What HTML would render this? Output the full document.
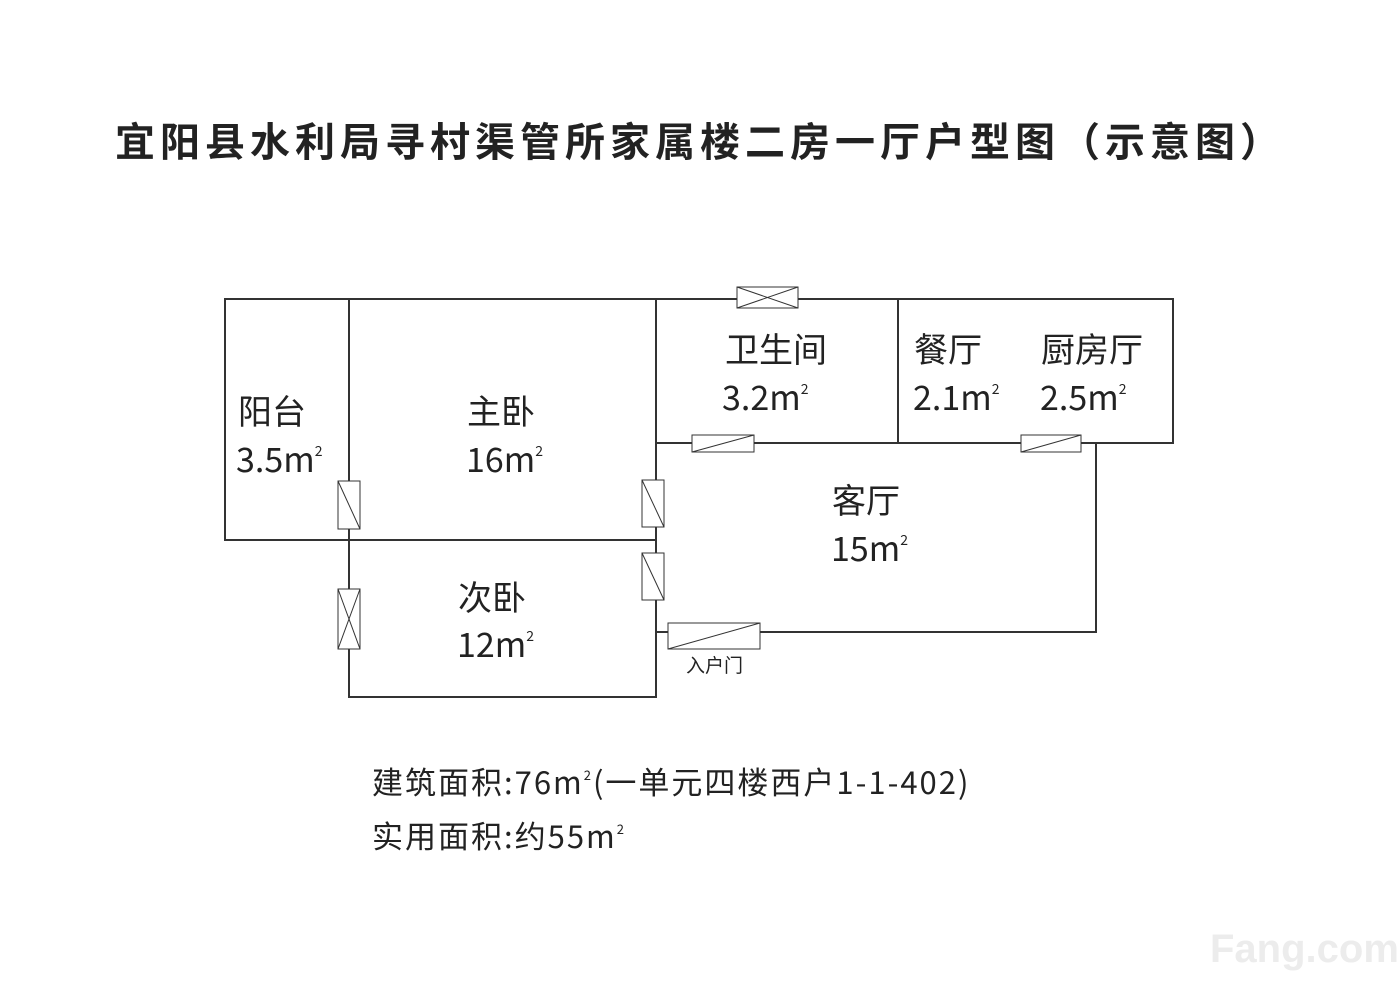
<!DOCTYPE html>
<html><head><meta charset="utf-8"><style>
body{margin:0;background:#fff;}
svg text{font-family:"Noto Sans CJK SC",sans-serif;fill:#222;}
</style></head><body>
<svg width="1400" height="986" viewBox="0 0 1400 986" xmlns="http://www.w3.org/2000/svg">
<rect width="1400" height="986" fill="#fff"/>
<text x="700" y="156" text-anchor="middle" font-size="40" font-weight="bold" letter-spacing="5">宜阳县水利局寻村渠管所家属楼二房一厅户型图（示意图）</text>
<g stroke="#333" stroke-width="2" fill="none">
<rect x="225" y="299" width="431" height="241"/>
<line x1="349" y1="299" x2="349" y2="540"/>
<polyline points="656,299 1173,299 1173,443 656,443"/>
<line x1="898" y1="299" x2="898" y2="443"/>
<polyline points="1096,443 1096,632 656,632"/>
<polyline points="349,540 349,697 656,697 656,443"/>
</g>
<g stroke="#333" stroke-width="1" fill="#fff">
<rect x="338" y="481" width="22" height="48"/><line x1="338" y1="481" x2="360" y2="529"/>
<rect x="642" y="480" width="22" height="47"/><line x1="642" y1="480" x2="664" y2="527"/>
<rect x="642" y="553" width="22" height="47"/><line x1="642" y1="553" x2="664" y2="600"/>
<rect x="338" y="589" width="22" height="60"/><line x1="338" y1="589" x2="360" y2="649"/><line x1="360" y1="589" x2="338" y2="649"/>
<rect x="737" y="287" width="61" height="21"/><line x1="737" y1="287" x2="798" y2="308"/><line x1="798" y1="287" x2="737" y2="308"/>
<rect x="692" y="435" width="62" height="17"/><line x1="692" y1="452" x2="754" y2="435"/>
<rect x="1021" y="435" width="60" height="17"/><line x1="1021" y1="452" x2="1081" y2="435"/>
<rect x="668" y="623" width="92" height="26"/><line x1="668" y1="649" x2="760" y2="623"/>
</g>
<g font-size="34">
<text x="238" y="424">阳台</text><text x="236" y="472">3.5m<tspan font-size="14" dy="-16">2</tspan></text>
<text x="467" y="424">主卧</text><text x="466" y="472">16m<tspan font-size="14" dy="-16">2</tspan></text>
<text x="725" y="362">卫生间</text><text x="722" y="410">3.2m<tspan font-size="14" dy="-16">2</tspan></text>
<text x="914" y="362">餐厅</text><text x="913" y="410">2.1m<tspan font-size="14" dy="-16">2</tspan></text>
<text x="1041" y="362">厨房厅</text><text x="1040" y="410">2.5m<tspan font-size="14" dy="-16">2</tspan></text>
<text x="832" y="513">客厅</text><text x="831" y="561">15m<tspan font-size="14" dy="-16">2</tspan></text>
<text x="458" y="610">次卧</text><text x="457" y="657">12m<tspan font-size="14" dy="-16">2</tspan></text>
</g>
<text x="686" y="672" font-size="19">入户门</text>
<text x="372" y="794" font-size="31" letter-spacing="2">建筑面积:76m<tspan font-size="13" dy="-14">2</tspan><tspan dy="14">(一单元四楼西户1-1-402)</tspan></text>
<text x="372" y="848" font-size="31" letter-spacing="2">实用面积:约55m<tspan font-size="13" dy="-14">2</tspan></text>
<text x="1210" y="962" font-size="40" font-weight="bold" style="fill:#ececec;font-family:'Liberation Sans',sans-serif">Fang.com</text>
</svg>
</body></html>
